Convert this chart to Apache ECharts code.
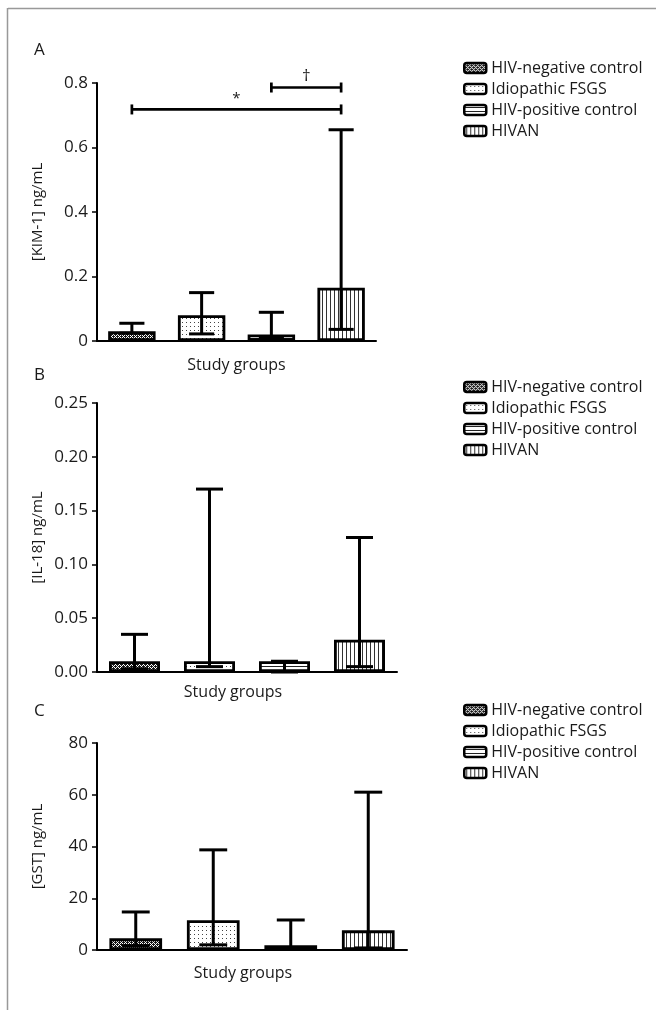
<!DOCTYPE html>
<html>
<head>
<meta charset="utf-8">
<style>html,body{margin:0;padding:0;background:#fff}#c{width:656px;height:1010px}</style>
<script src="https://cdn.jsdelivr.net/npm/echarts@6/dist/echarts.min.js"></script>
</head>
<body>
<div id="c"></div>
<script>
// ---- data ----
const groups = ['HIV-negative control', 'Idiopathic FSGS', 'HIV-positive control', 'HIVAN'];
const kimMedian = [0.03, 0.08, 0.02, 0.165];
const kimLow    = [0.024, 0.022, 0.011, 0.036];
const kimHigh   = [0.055, 0.15, 0.089, 0.655];
const il18Median = [0.01, 0.01, 0.01, 0.03];
const il18Low    = [0.003, 0.005, 0.0, 0.005];
const il18High   = [0.035, 0.17, 0.01, 0.125];
const gstMedian = [4.5, 11.5, 1.8, 7.6];
const gstLow    = [1.7, 2.0, 0.7, 0.8];
const gstHigh   = [14.7, 38.7, 11.6, 61.0];
// significance brackets in panel A: [fromGroup, toGroup, level, mark]
const kimBrackets = [[0, 3, 0.718, '*'], [2, 3, 0.786, '\u2020']];
const panelLetters = ['A', 'B', 'C'];
const yNames = ['[KIM-1] ng/mL', '[IL-18] ng/mL', '[GST] ng/mL'];
const xName = 'Study groups';

// ---- patterns ----
function pat(kind) {
  const c = document.createElement('canvas');
  const ctx = c.getContext('2d');
  if (kind === 0) { // dense checker
    c.width = 4; c.height = 4;
    ctx.fillStyle = '#fff'; ctx.fillRect(0, 0, 4, 4);
    ctx.fillStyle = '#1a1a1a';
    ctx.fillRect(0, 0, 1, 1); ctx.fillRect(2, 0, 1, 1); ctx.fillRect(1, 1, 1, 1); ctx.fillRect(3, 1, 1, 1);
    ctx.fillRect(0, 2, 1, 1); ctx.fillRect(2, 2, 1, 1); ctx.fillRect(1, 3, 1, 1); ctx.fillRect(3, 3, 1, 1);
    ctx.fillRect(1, 0, 1, 1); ctx.fillRect(3, 2, 1, 1);
  } else if (kind === 1) { // dots
    c.width = 4; c.height = 4;
    ctx.fillStyle = '#fff'; ctx.fillRect(0, 0, 4, 4);
    ctx.fillStyle = '#444'; ctx.fillRect(2, 2, 1, 1);
  } else if (kind === 2) { // horizontal lines
    c.width = 4; c.height = 4;
    ctx.fillStyle = '#fff'; ctx.fillRect(0, 0, 4, 4);
    ctx.fillStyle = '#222'; ctx.fillRect(0, 2, 4, 1);
  } else { // vertical lines
    c.width = 4; c.height = 4;
    ctx.fillStyle = '#fff'; ctx.fillRect(0, 0, 4, 4);
    ctx.fillStyle = '#333'; ctx.fillRect(2, 0, 1, 4);
  }
  return { image: c, repeat: 'repeat' };
}
const fills = [pat(0), pat(1), pat(2), pat(3)];

const FONT = 'Open Sans';
const TXT = '#1a1a1a';

const grids = [
  { left: 97, width: 279, top: 83, height: 258 },
  { left: 97, width: 300, top: 403, height: 269 },
  { left: 97, width: 310, top: 743, height: 207 }
];
const yCfg = [
  { max: 0.8, interval: 0.2, fmt: v => v === 0 ? '0' : v.toFixed(1) },
  { max: 0.25, interval: 0.05, fmt: v => v.toFixed(2) },
  { max: 80, interval: 20, fmt: v => String(v) }
];
const medians = [kimMedian, il18Median, gstMedian];
const lows = [kimLow, il18Low, gstLow];
const highs = [kimHigh, il18High, gstHigh];
const xNamePad = [0, 28, 18];
const xNameGap = [16, 12, 15];
const legendTops = [55, 374, 697];

const xAxis = [], yAxis = [], series = [], legend = [], graphic = [];
for (let p = 0; p < 3; p++) {
  xAxis.push({
    type: 'category', gridIndex: p, data: groups,
    axisLine: { lineStyle: { color: '#000', width: 2 } },
    axisTick: { show: false }, axisLabel: { show: false },
    name: xName, nameLocation: 'middle', nameGap: xNameGap[p],
    nameTextStyle: { fontFamily: FONT, fontSize: 16, color: TXT, padding: [0, xNamePad[p], 0, 0] }
  });
  yAxis.push({
    type: 'value', gridIndex: p, min: 0, max: yCfg[p].max, interval: yCfg[p].interval,
    splitLine: { show: false },
    axisLine: { show: true, lineStyle: { color: '#000', width: 2 } },
    axisTick: { show: true, length: 5, lineStyle: { color: '#000', width: 1.5 } },
    axisLabel: { fontFamily: FONT, fontSize: 17, color: TXT, margin: 9, formatter: yCfg[p].fmt },
    name: yNames[p], nameLocation: 'middle', nameGap: 52,
    nameTextStyle: { fontFamily: FONT, fontSize: 15, color: TXT }
  });
  for (let g = 0; g < 4; g++) {
    series.push({
      type: 'bar', name: groups[g], xAxisIndex: p, yAxisIndex: p,
      barWidth: '68%', barGap: '-100%',
      data: medians[p].map((v, i) => i === g ? v : '-'),
      itemStyle: { color: fills[g], borderColor: '#000', borderWidth: 2.8 },
      emphasis: { disabled: true }, z: 2
    });
  }
  series.push({
    type: 'custom', xAxisIndex: p, yAxisIndex: p, z: 5,
    data: groups.map((_, i) => [i, lows[p][i], highs[p][i]]),
    encode: { x: 0, y: [1, 2] },
    renderItem: function (params, api) {
      const x = api.value(0);
      const lo = api.coord([x, api.value(1)]);
      const hi = api.coord([x, api.value(2)]);
      const hw = api.size([1, 0])[0] * 0.18;
      const st = { stroke: '#000', lineWidth: 3 };
      return { type: 'group', children: [
        { type: 'line', shape: { x1: lo[0], y1: lo[1], x2: hi[0], y2: hi[1] }, style: st },
        { type: 'line', shape: { x1: hi[0] - hw, y1: hi[1], x2: hi[0] + hw, y2: hi[1] }, style: st },
        { type: 'line', shape: { x1: lo[0] - hw, y1: lo[1], x2: lo[0] + hw, y2: lo[1] }, style: st }
      ] };
    }
  });
  legend.push({
    orient: 'vertical', left: 458, top: legendTops[p], data: groups,
    itemWidth: 22, itemHeight: 10, itemGap: 5, icon: 'roundRect',
    itemStyle: { borderColor: '#000', borderWidth: 2.5 },
    textStyle: { fontFamily: FONT, fontSize: 16, color: TXT, lineHeight: 16 },
    selectedMode: false
  });
  graphic.push({
    type: 'text', left: 34, top: [42, 367, 703][p],
    style: { text: panelLetters[p], fontFamily: FONT, fontSize: 17, fill: TXT }
  });
}
series.push({
  type: 'custom', xAxisIndex: 0, yAxisIndex: 0, z: 6,
  data: kimBrackets,
  encode: { x: [0, 1], y: 2 },
  renderItem: function (params, api) {
    const a = api.coord([api.value(0), api.value(2)]);
    const b = api.coord([api.value(1), api.value(2)]);
    const st = { stroke: '#000', lineWidth: 2.7 };
    const mark = kimBrackets[params.dataIndex][3];
    return { type: 'group', children: [
      { type: 'line', shape: { x1: a[0], y1: a[1], x2: b[0], y2: b[1] }, style: st },
      { type: 'line', shape: { x1: a[0], y1: a[1] - 5, x2: a[0], y2: a[1] + 5 }, style: st },
      { type: 'line', shape: { x1: b[0], y1: b[1] - 5, x2: b[0], y2: b[1] + 5 }, style: st },
      { type: 'text', x: (a[0] + b[0]) / 2, y: a[1] - 3,
        style: { text: mark, fontFamily: FONT, fontSize: mark === '*' ? 15 : 17, fill: TXT, align: 'center', verticalAlign: 'bottom' } }
    ] };
  }
});
graphic.push({ type: 'line', shape: { x1: 8, y1: 8.5, x2: 656, y2: 8.5 }, style: { stroke: '#999', lineWidth: 1.5 } });
graphic.push({ type: 'line', shape: { x1: 7.5, y1: 8, x2: 7.5, y2: 1010 }, style: { stroke: '#999', lineWidth: 1.5 } });

const chart = echarts.init(document.getElementById('c'), null, { renderer: 'canvas' });
chart.setOption({
  animation: false,
  backgroundColor: '#fff',
  grid: grids,
  xAxis: xAxis, yAxis: yAxis, series: series, legend: legend, graphic: graphic
});
</script>
</body>
</html>
